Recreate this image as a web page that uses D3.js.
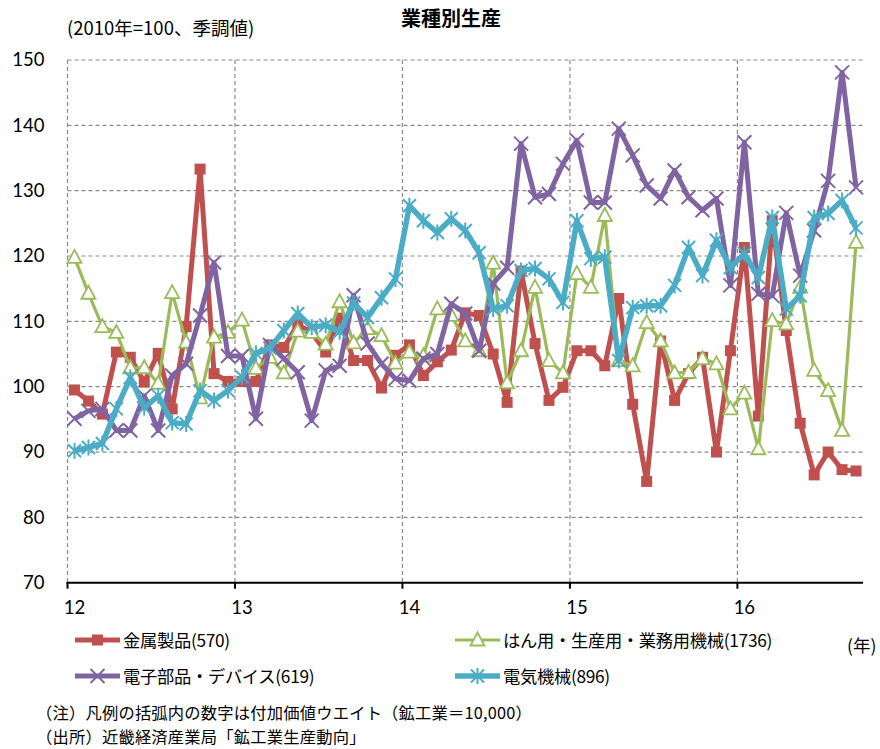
<!DOCTYPE html>
<html><head><meta charset="utf-8">
<script src="https://cdn.jsdelivr.net/npm/d3@7"></script>
<style>body{margin:0;background:#fff;} svg{display:block;}</style>
</head><body><svg id="c" width="880" height="749"></svg>
<script>
// ---- data ----
const months = d3.range(57).map(i => `${2012 + Math.floor(i / 12)}-${String(i % 12 + 1).padStart(2, '0')}`);
const yearLabels = ["12", "13", "14", "15", "16"];
const yTicks = [70, 80, 90, 100, 110, 120, 130, 140, 150];
const seriesNames = ["金属製品(570)", "はん用・生産用・業務用機械(1736)", "電子部品・デバイス(619)", "電気機械(896)"];
const metal = [99.5, 97.8, 95.8, 105.3, 104.5, 100.7, 105.1, 96.6, 109.2, 133.3, 102.0, 100.8, 100.8, 100.8, 106.4, 106.0, 109.5, 108.3, 105.3, 110.5, 104.0, 104.0, 99.8, 104.8, 106.4, 101.7, 103.8, 105.6, 111.3, 110.9, 105.0, 97.6, 117.7, 106.6, 97.9, 99.9, 105.5, 105.5, 103.2, 113.5, 97.3, 85.5, 107.0, 97.9, 102.0, 104.5, 90.0, 105.5, 121.3, 95.5, 125.4, 108.6, 94.4, 86.5, 90.0, 87.3, 87.1];
const machinery = [119.8, 114.3, 109.2, 108.3, 102.9, 102.9, 100.5, 114.4, 106.8, 98.3, 107.6, 108.3, 110.2, 102.8, 104.5, 102.1, 108.5, 108.3, 106.5, 113.0, 106.7, 108.9, 107.8, 103.6, 105.3, 104.7, 111.9, 110.9, 107.0, 105.5, 118.9, 100.6, 105.5, 115.2, 104.0, 102.1, 117.3, 115.2, 126.2, 104.0, 103.2, 109.8, 107.0, 102.1, 102.2, 104.3, 103.5, 96.6, 99.0, 90.5, 110.1, 109.6, 115.2, 102.5, 99.4, 93.3, 122.1];
const electronics = [95.1, 96.3, 96.6, 93.3, 93.3, 98.6, 93.3, 101.7, 103.5, 110.9, 119.0, 104.7, 104.7, 95.1, 106.4, 104.3, 102.2, 94.8, 102.5, 103.2, 114.0, 106.6, 103.5, 101.2, 100.9, 104.3, 105.0, 112.7, 111.2, 105.5, 115.8, 118.2, 137.2, 129.0, 129.5, 134.1, 137.7, 128.2, 128.2, 139.5, 135.4, 130.8, 128.8, 133.1, 129.0, 127.0, 128.8, 115.5, 137.4, 114.2, 113.9, 126.6, 117.0, 123.9, 131.5, 148.1, 130.5];
const electrical = [90.2, 90.7, 91.3, 96.6, 101.4, 96.8, 98.6, 94.5, 94.3, 99.4, 97.9, 99.4, 101.5, 105.1, 105.9, 108.6, 111.2, 109.1, 109.4, 108.4, 112.8, 110.6, 113.6, 116.5, 127.7, 125.4, 123.6, 125.7, 123.9, 120.5, 111.9, 112.4, 117.8, 118.1, 116.5, 112.9, 125.4, 119.6, 119.8, 104.0, 112.1, 112.4, 112.4, 115.5, 121.3, 117.0, 122.4, 118.2, 120.4, 116.7, 125.9, 111.9, 113.9, 125.9, 126.5, 128.5, 124.3];

// ---- setup ----
const svg = d3.select("#c");
const L = 67.5, R = 863, T = 60, B = 582.7;
const x = d3.scaleBand().domain(months).range([L, R]).padding(0);
const y = d3.scaleLinear().domain([70, 150]).range([B, T]);
const cx = d => x(d) + x.bandwidth() / 2;
const janMonths = months.filter((m, i) => i % 12 === 0);
const numFont = "Lato, 'Noto Sans CJK JP', sans-serif";
const jpFont = "'Noto Sans CJK JP', sans-serif";

// gridlines
const grid = svg.append("g").attr("stroke", "#8a8a8a").attr("stroke-width", 1.2).attr("stroke-dasharray", "4,3").attr("fill", "none");
yTicks.filter(v => v > 70).forEach(v => grid.append("line").attr("x1", L).attr("x2", R).attr("y1", y(v)).attr("y2", y(v)));
janMonths.forEach(m => grid.append("line").attr("x1", x(m)).attr("x2", x(m)).attr("y1", T).attr("y2", B));

// y axis labels
const yAxis = svg.append("g").attr("transform", `translate(${L},0)`)
  .call(d3.axisLeft(y).tickValues(yTicks).tickSize(0).tickPadding(23));
yAxis.select(".domain").remove();
yAxis.selectAll("text").attr("font-family", numFont).attr("font-size", 18.5).attr("fill", "#000");

// x axis
const xAxis = svg.append("g").attr("transform", `translate(0,${B})`)
  .call(d3.axisBottom(x).tickValues(janMonths).tickSize(0).tickPadding(18).tickFormat((m, i) => yearLabels[i]));
xAxis.select(".domain").remove();
xAxis.selectAll("text").attr("font-family", numFont).attr("font-size", 18.5).attr("fill", "#000");
svg.append("line").attr("x1", L - 1).attr("x2", R).attr("y1", B).attr("y2", B).attr("stroke", "#000").attr("stroke-width", 2);
janMonths.forEach(m => svg.append("line").attr("x1", x(m)).attr("x2", x(m)).attr("y1", B).attr("y2", B + 6).attr("stroke", "#000").attr("stroke-width", 2));

// series
const styles = [
  { data: metal, color: "#C0504D", width: 5, marker: "square" },
  { data: machinery, color: "#9BBB59", width: 3.2, marker: "triangle" },
  { data: electronics, color: "#8064A2", width: 5, marker: "x" },
  { data: electrical, color: "#4BACC6", width: 5.5, marker: "star" }
];
function drawMarker(g, type, color) {
  if (type === "square") {
    g.append("rect").attr("x", -5.5).attr("y", -5.5).attr("width", 11).attr("height", 11).attr("fill", color);
  } else if (type === "triangle") {
    g.append("path").attr("d", "M0,-7.5L7,5.5L-7,5.5Z").attr("fill", "#fff").attr("stroke", color).attr("stroke-width", 1.8);
  } else if (type === "x") {
    g.append("path").attr("d", "M-7,-7L7,7M-7,7L7,-7").attr("stroke", color).attr("stroke-width", 2);
  } else {
    g.append("path").attr("d", "M-6.5,-6.5L6.5,6.5M-6.5,6.5L6.5,-6.5M0,-8L0,8").attr("stroke", color).attr("stroke-width", 2);
  }
}
const line = d3.line().x((d, i) => cx(months[i])).y(d => y(d));
styles.forEach(s => {
  const g = svg.append("g");
  g.append("path").attr("d", line(s.data)).attr("fill", "none").attr("stroke", s.color)
    .attr("stroke-width", s.width).attr("stroke-linejoin", "round");
  s.data.forEach((v, i) => {
    const mg = g.append("g").attr("transform", `translate(${cx(months[i])},${y(v)})`);
    drawMarker(mg, s.marker, s.color);
  });
});

// titles
svg.append("text").attr("x", 451).attr("y", 26).attr("text-anchor", "middle").attr("font-family", jpFont)
  .attr("font-weight", "bold").attr("font-size", 20).text("業種別生産");
svg.append("text").attr("x", 67).attr("y", 35).attr("font-family", jpFont).attr("font-size", 18.5).text("(2010年=100、季調値)");

// legend
const legPos = [[75, 640], [455, 640], [75, 676], [455, 676]];
styles.forEach((s, i) => {
  const [lx, ly] = legPos[i];
  svg.append("line").attr("x1", lx).attr("x2", lx + 45).attr("y1", ly).attr("y2", ly)
    .attr("stroke", s.color).attr("stroke-width", s.width);
  drawMarker(svg.append("g").attr("transform", `translate(${lx + 22.5},${ly})`), s.marker, s.color);
  svg.append("text").attr("x", lx + 48).attr("y", ly + 6.5).attr("font-family", jpFont).attr("font-size", 17.3).attr("letter-spacing", -0.3).text(seriesNames[i]);
});
svg.append("text").attr("x", 847).attr("y", 652).attr("font-family", jpFont).attr("font-size", 17.5).text("(年)");

// notes
svg.append("text").attr("x", 36).attr("y", 719).attr("font-family", jpFont).attr("font-size", 16.3).attr("letter-spacing", 0.2).text("（注）凡例の括弧内の数字は付加価値ウエイト（鉱工業＝10,000）");
svg.append("text").attr("x", 36).attr("y", 743).attr("font-family", jpFont).attr("font-size", 16.3).attr("letter-spacing", 0.2).text("（出所）近畿経済産業局「鉱工業生産動向」");
</script></body></html>
